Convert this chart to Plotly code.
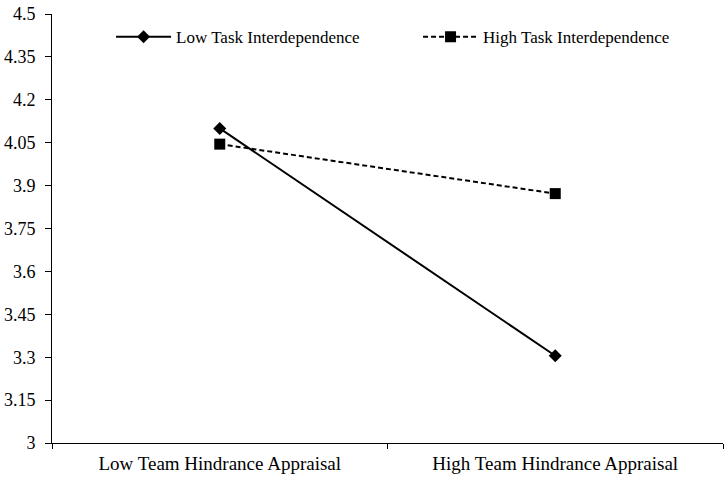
import plotly.graph_objects as go

categories = ["Low Team Hindrance Appraisal", "High Team Hindrance Appraisal"]
low_task = [4.10, 3.305]
high_task = [4.045, 3.872]
y_ticks = [3, 3.15, 3.3, 3.45, 3.6, 3.75, 3.9, 4.05, 4.2, 4.35, 4.5]
y_tick_labels = ["3", "3.15", "3.3", "3.45", "3.6", "3.75", "3.9", "4.05", "4.2", "4.35", "4.5"]

font_family = "Liberation Serif, Times New Roman, serif"

fig = go.Figure()
fig.add_trace(go.Scatter(
    x=categories, y=low_task, name="Low Task Interdependence",
    mode="lines+markers",
    line=dict(color="black", width=2),
    marker=dict(symbol="diamond", size=10, color="black"),
))
fig.add_trace(go.Scatter(
    x=categories, y=high_task, name="High Task Interdependence",
    mode="lines+markers",
    line=dict(color="black", width=2, dash="5px,3px"),
    marker=dict(symbol="square", size=11, color="black"),
))

fig.update_layout(
    width=727, height=479,
    margin=dict(l=52, r=4, t=14, b=36, autoexpand=False),
    paper_bgcolor="white", plot_bgcolor="white",
    font=dict(family=font_family, size=16, color="black"),
    showlegend=True,
    legend=dict(orientation="h", x=0.088, y=0.946, xanchor="left", yanchor="middle",
                bgcolor="rgba(0,0,0,0)", font=dict(size=17),
                itemwidth=55,
                entrywidth=237, entrywidthmode="pixels"),
    xaxis=dict(
        type="category", range=[-0.5, 1.5],
        showline=True, linecolor="black", linewidth=1,
        ticks="outside", tickson="boundaries", ticklen=5, tickcolor="black",
        showgrid=False, zeroline=False, mirror=False,
        tickfont=dict(size=19), ticklabelstandoff=3,
    ),
    yaxis=dict(
        range=[3, 4.5], tickvals=y_ticks, ticktext=y_tick_labels,
        showline=True, linecolor="black", linewidth=1,
        ticks="outside", ticklen=6, tickcolor="black",
        showgrid=False, zeroline=False,
        tickfont=dict(size=18), ticklabelstandoff=6,
    ),
)

fig.write_html("out.html")
